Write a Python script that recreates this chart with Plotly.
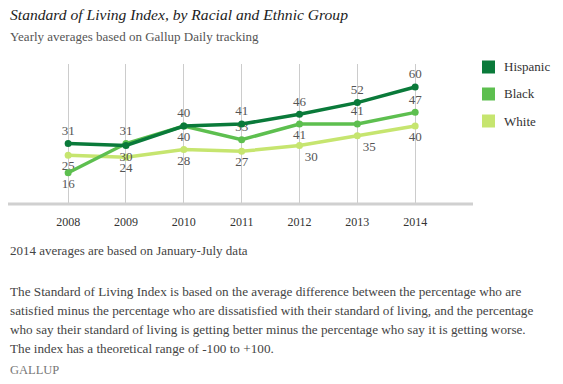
import plotly.graph_objects as go

years = [2008, 2009, 2010, 2011, 2012, 2013, 2014]
hispanic = [31, 30, 40, 41, 46, 52, 60]
black = [16, 31, 40, 33, 41, 41, 47]
white = [25, 24, 28, 27, 30, 35, 40]

series_names = ["Hispanic", "Black", "White"]
colors = ["#0a7a3a", "#5dbf4f", "#c6e56f"]

hisp_pos = ["top center", "bottom center", "top center", "top center",
            "top center", "top center", "top center"]
black_pos = ["bottom center", "top center", "bottom center", "top center",
             "bottom center", "top center", "top center"]
white_pos = ["bottom center", "bottom center", "bottom center", "bottom center",
             "bottom right", "bottom right", "bottom center"]

W, H = 563, 384
SERIF = "Georgia, 'Liberation Serif', 'DejaVu Serif', serif"


def px(x):
    return x / W


def py(y):
    return 1 - y / H


fig = go.Figure()
for name, vals, col, pos in [("White", white, colors[2], white_pos),
                             ("Black", black, colors[1], black_pos),
                             ("Hispanic", hispanic, colors[0], hisp_pos)]:
    fig.add_trace(go.Scatter(
        x=years, y=vals, mode="lines+markers+text", name=name,
        line=dict(color=col, width=3.5),
        marker=dict(color=col, size=7),
        text=[str(v) for v in vals], textposition=pos,
        textfont=dict(family=SERIF, size=13, color="#555555"),
        cliponaxis=False, hoverinfo="skip", showlegend=False,
    ))

x0, x1 = 8, 473
ytop, ybot = 64, 204
fig.update_layout(
    width=W, height=H, margin=dict(l=0, r=0, t=0, b=0),
    paper_bgcolor="white", plot_bgcolor="white",
    xaxis=dict(domain=[px(x0), px(x1)], range=[2006.96, 2015.0],
               tickvals=years, ticktext=[str(y) for y in years],
               showgrid=True, gridcolor="#cccccc", gridwidth=1,
               showline=False, zeroline=False, ticks="",
               tickfont=dict(family=SERIF, size=12, color="#333333"),
               ticklabelstandoff=9, fixedrange=True),
    yaxis=dict(domain=[py(ybot), py(ytop)], range=[0, 71.8],
               showgrid=False, zeroline=False, showticklabels=False,
               showline=False, fixedrange=True),
    showlegend=False,
)

# baseline
fig.add_shape(type="line", xref="paper", yref="paper",
              x0=px(x0), x1=px(x1), y0=py(ybot), y1=py(ybot),
              line=dict(color="#d0d0d0", width=3))

# legend
for i, (name, col) in enumerate(zip(series_names, colors)):
    cy = 67 + 27 * i
    fig.add_shape(type="rect", xref="paper", yref="paper",
                  x0=px(482), x1=px(495), y0=py(cy + 6.5), y1=py(cy - 6.5),
                  fillcolor=col, line=dict(width=0))
    fig.add_annotation(text=name, xref="paper", yref="paper",
                       x=px(502), y=py(cy), xanchor="left", yanchor="middle",
                       showarrow=False,
                       font=dict(family=SERIF, size=13, color="#333333"))


def txt(s, x, y, size, color, italic=False):
    fig.add_annotation(text=(f"<i>{s}</i>" if italic else s), xref="paper", yref="paper",
                       x=px(x), y=py(y), xanchor="left", yanchor="middle",
                       showarrow=False, align="left",
                       font=dict(family=SERIF, size=size, color=color))


txt("Standard of Living Index, by Racial and Ethnic Group", 8, 14, 15.6, "#222222", italic=True)
txt("Yearly averages based on Gallup Daily tracking", 8, 37, 13, "#555555")
txt("2014 averages are based on January-July data", 8, 250, 13, "#444444")
para = [
    "The Standard of Living Index is based on the average difference between the percentage who are",
    "satisfied minus the percentage who are dissatisfied with their standard of living, and the percentage",
    "who say their standard of living is getting better minus the percentage who say it is getting worse.",
    "The index has a theoretical range of -100 to +100.",
]
for i, line in enumerate(para):
    txt(line, 8, 291 + 19 * i, 13.2, "#444444")
txt("GALLUP", 8, 370, 12.5, "#777777")

fig.write_html("out.html", config={"displayModeBar": False, "staticPlot": True},
               post_script="document.body.style.margin='0px';document.body.style.overflow='hidden';")
